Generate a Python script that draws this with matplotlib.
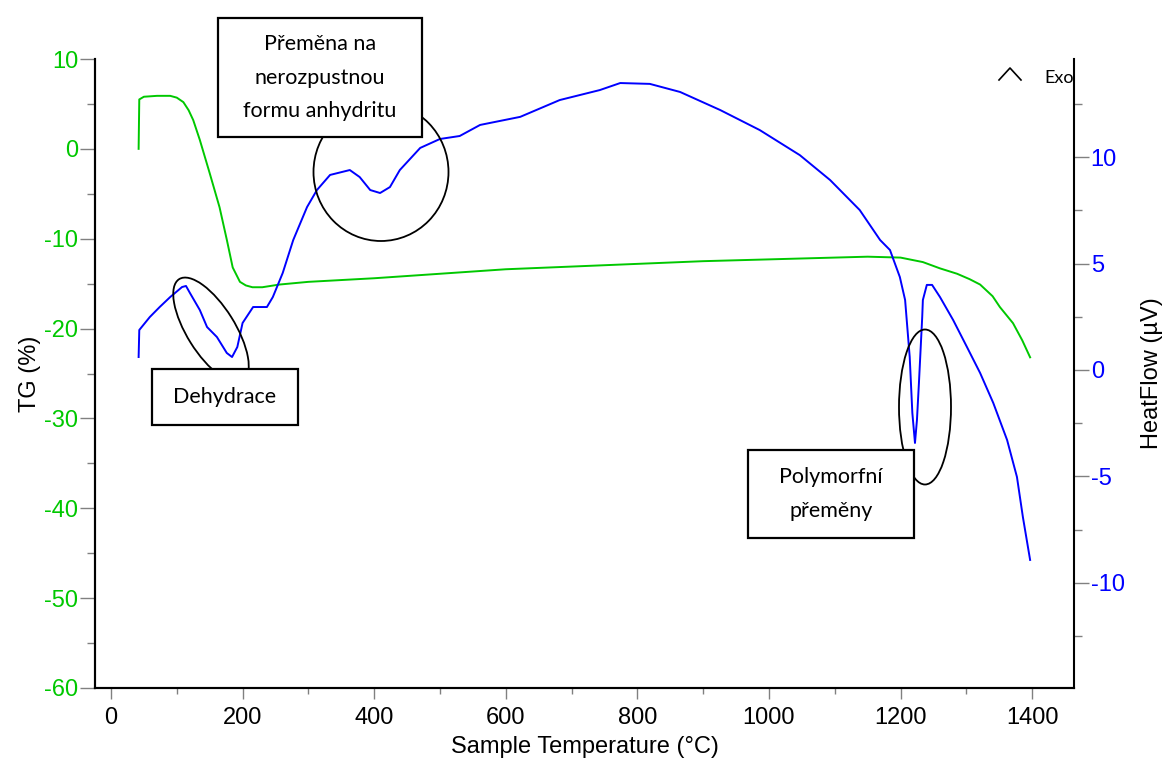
import matplotlib
matplotlib.use('Agg')
import matplotlib.pyplot as plt
from matplotlib.patches import Ellipse, Rectangle
from matplotlib.lines import Line2D
from matplotlib.ticker import MultipleLocator

# data
tg_temp = [42, 43, 50, 70, 90, 100, 110, 118, 125, 135, 150, 165, 176, 185, 196, 205, 215,
           230, 256, 300, 400, 500, 600, 700, 800, 900, 1000, 1100, 1150, 1200, 1234, 1260,
           1286, 1305, 1321, 1340, 1351, 1371, 1385, 1397]
tg_val = [0.0, 5.5, 5.8, 5.9, 5.9, 5.7, 5.2, 4.3, 3.2, 1.0, -2.7, -6.5, -10.1, -13.2, -14.8,
          -15.2, -15.4, -15.4, -15.1, -14.8, -14.4, -13.9, -13.4, -13.1, -12.8, -12.5, -12.3,
          -12.1, -12.0, -12.1, -12.6, -13.3, -13.9, -14.5, -15.1, -16.4, -17.6, -19.4, -21.3,
          -23.2]

hf_temp = [42, 43, 59, 74, 90, 108, 114, 120, 135, 146, 161, 176, 184, 192, 200, 216, 237,
           246, 261, 277, 298, 313, 333, 363, 378, 394, 409, 424, 439, 470, 500, 530, 561,
           622, 682, 743, 774, 819, 865, 926, 986, 1047, 1093, 1138, 1169, 1184, 1199, 1207,
           1214, 1218, 1222, 1225, 1228, 1233, 1234, 1240, 1248, 1260, 1280, 1301, 1321, 1341,
           1362, 1377, 1386, 1397]
hf_val = [0.61, 1.88, 2.49, 2.96, 3.43, 3.9, 3.95, 3.62, 2.82, 2.02, 1.55, 0.8, 0.61, 1.08,
          2.21, 2.96, 2.96, 3.43, 4.56, 6.11, 7.66, 8.46, 9.17, 9.4, 9.07, 8.46, 8.32, 8.6,
          9.4, 10.44, 10.86, 11.0, 11.52, 11.9, 12.69, 13.16, 13.49, 13.45, 13.07, 12.22,
          11.28, 10.1, 8.93, 7.52, 6.11, 5.64, 4.37, 3.29, 0.61, -2.02, -3.43, -2.35, -0.61,
          2.49, 3.29, 4.0, 4.0, 3.43, 2.35, 1.08, -0.14, -1.55, -3.29, -5.03, -6.91, -8.93]

green = '#00C800'
blue = '#0000FF'
axfont = 'Liberation Sans'
boxfont = 'Lato'

plt.rcParams['font.family'] = axfont
plt.rcParams['axes.unicode_minus'] = False

W, H = 1163, 758
fig = plt.figure(figsize=(W / 100, H / 100), dpi=100)
ax1 = fig.add_axes([95 / W, 1 - 688 / H, (1074 - 95) / W, (688 - 59) / H])
ax2 = ax1.twinx()

ax1.plot(tg_temp, tg_val, color=green, lw=1.4)
ax2.plot(hf_temp, hf_val, color=blue, lw=1.4)

ax1.set_xlim(-24.3, 1463.7)
ax1.set_ylim(-60, 10)
ax2.set_ylim(-14.95, 14.62)

ax1.xaxis.set_major_locator(MultipleLocator(200))
ax1.xaxis.set_minor_locator(MultipleLocator(100))
ax1.yaxis.set_major_locator(MultipleLocator(10))
ax1.yaxis.set_minor_locator(MultipleLocator(5))
ax2.yaxis.set_major_locator(MultipleLocator(5))
ax2.yaxis.set_minor_locator(MultipleLocator(2.5))

for a in (ax1, ax2):
    a.spines['top'].set_visible(False)
    for s in ('left', 'right', 'bottom'):
        a.spines[s].set_linewidth(1.5)
ax1.spines['right'].set_visible(False)

ax1.tick_params(axis='y', which='major', length=11, width=1, color='#808080',
                labelsize=17, labelcolor=green, pad=1)
ax1.tick_params(axis='y', which='minor', length=6, width=1, color='#808080')
ax1.tick_params(axis='x', which='major', length=8, width=1, color='#808080',
                labelsize=17, pad=6)
ax1.tick_params(axis='x', which='minor', length=4, width=1, color='#808080')
ax2.tick_params(axis='y', which='major', length=11, width=1, color='#808080',
                labelsize=17, labelcolor=blue, pad=1)
ax2.tick_params(axis='y', which='minor', length=6, width=1, color='#808080')

ax1.set_xlabel('Sample Temperature (°C)', fontsize=17, labelpad=5)
ax1.set_ylabel('TG (%)', fontsize=17, labelpad=2)
ax2.set_ylabel('HeatFlow (µV)', fontsize=17, labelpad=12)

# annotations, placed in figure inches (top-left pixel coords converted)
tr = fig.dpi_scale_trans


def px(x, y):
    return (x / 100, (H - y) / 100)


ellipses = [((211, 330), 120, 48, -58), ((381, 172), 135, 138, 0), ((925, 407), 52, 155, 0)]
for (cx, cy), w, h, ang in ellipses:
    fig.add_artist(Ellipse(px(cx, cy), w / 100, h / 100, angle=ang, transform=tr,
                           fill=False, ec='black', lw=1.3, zorder=5))

boxes = [((152, 369, 298, 425), 'Dehydrace'),
         ((218, 18, 422, 137), 'Přeměna na\nnerozpustnou\nformu anhydritu'),
         ((748, 450, 914, 538), 'Polymorfní\npřeměny')]
for (x0, y0, x1, y1), txt in boxes:
    fig.add_artist(Rectangle(px(x0, y1), (x1 - x0) / 100, (y1 - y0) / 100, transform=tr,
                             fc='white', ec='black', lw=1.6, zorder=6))
    fig.text((x0 + x1) / 2 / W, 1 - (y0 + y1) / 2 / H, txt, ha='center', va='center',
             fontsize=15.5, family=boxfont, linespacing=1.85, zorder=7)

# Exo marker
fig.add_artist(Line2D([999 / W, 1010 / W, 1021 / W], [1 - 80 / H, 1 - 68 / H, 1 - 80 / H],
                      color='black', lw=1.2))
fig.text(1044 / W, 1 - 78 / H, 'Exo', fontsize=13, family=boxfont, va='center', ha='left')

fig.savefig('out.png', dpi=100)
